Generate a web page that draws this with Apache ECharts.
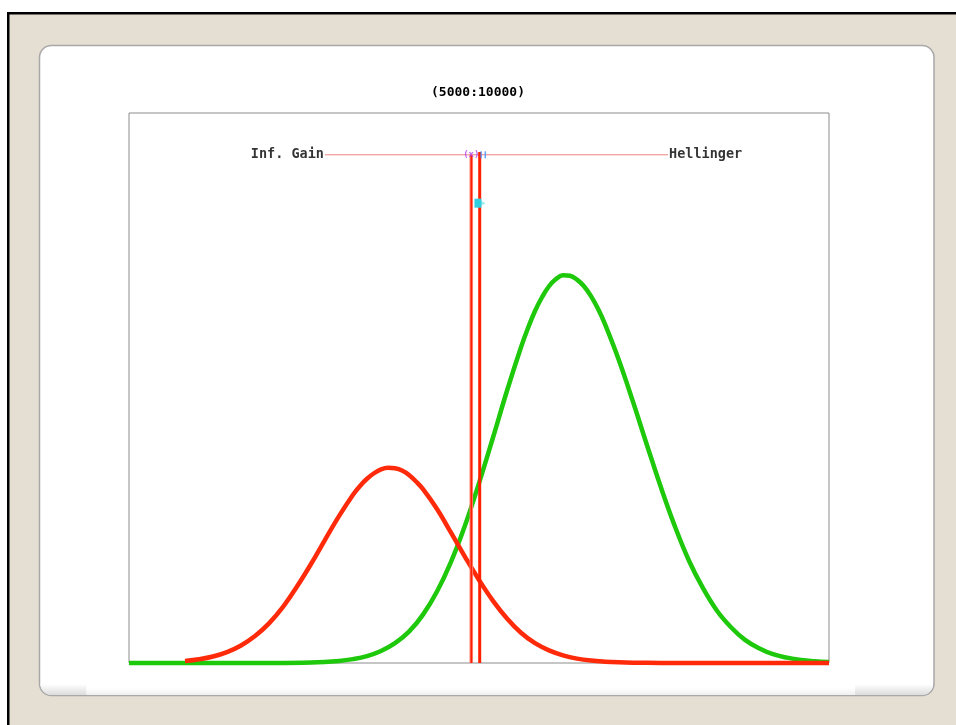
<!DOCTYPE html>
<html>
<head>
<meta charset="utf-8">
<script src="https://cdn.jsdelivr.net/npm/echarts@6/dist/echarts.min.js"></script>
<style>html,body{margin:0;padding:0;background:#fff;}#c{width:956px;height:725px;}</style>
</head>
<body>
<div id="c"></div>
<script>
// ---- data (x and y in plot units 0..100) ----
const titleText = '(5000:10000)';
const redX = [8,10,12,14,16,18,20,22,24,26,28,30,32,33,34,35,36,37,38,39,40,41,42,44,46,48,50,52,54,56,58,60,62,64,66,68,70,72,76,84,100];
const redY = [0.37,0.68,1.18,1.98,3.19,4.9,7.2,10.2,13.9,18.0,22.4,26.7,30.6,32.2,33.5,34.5,35.2,35.5,35.4,35.0,34.2,33.0,31.6,28.0,23.7,19.3,15.1,11.3,8.1,5.5,3.6,2.3,1.4,0.8,0.44,0.24,0.12,0.06,0.02,0,0];
const greenX = [0,10,20,26,30,32,34,36,38,40,42,44,46,48,50,52,54,56,57,58,59,60,61,62,63,64,65,66,67,68,70,72,74,76,78,80,82,84,86,88,90,92,94,96,98,100];
const greenY = [0,0,0.01,0.09,0.37,0.70,1.25,2.17,3.6,5.7,8.8,13.0,18.4,25.0,32.7,41.0,49.5,57.4,60.9,64.0,66.5,68.5,69.8,70.5,70.4,69.7,68.5,66.7,64.4,61.6,55.0,47.5,39.6,31.9,24.8,18.6,13.6,9.5,6.5,4.2,2.7,1.6,0.97,0.55,0.31,0.16];
const thresholdInfGain = 48.9;
const thresholdHellinger = 50.1;
const topLineY = 92.4;
const topLineX = [28.0, 77.0];
const labelNames = ['Inf. Gain', 'Hellinger'];
const cyanMarker = [49.85, 83.6];
const blueTicksX = [50.3, 50.9];

const zip = (a, b) => a.map((v, i) => [v, b[i]]);

const chart = echarts.init(document.getElementById('c'), null, {renderer: 'canvas'});
const mono = 'DejaVu Sans Mono';

chart.setOption({
  backgroundColor: '#ffffff',
  animation: false,
  graphic: [
    {type: 'rect', z: -100, silent: true,
     shape: {x: 8.25, y: 13.25, width: 960, height: 720},
     style: {fill: '#e4ded3', stroke: '#000', lineWidth: 2.5}},
    {type: 'rect', z: -99, silent: true,
     shape: {x: 39.5, y: 45.5, width: 894.5, height: 650, r: 12},
     style: {fill: '#ffffff', stroke: '#a8a8a8', lineWidth: 1.5}},
    {type: 'rect', z: -98, silent: true,
     shape: {x: 40.5, y: 684, width: 46, height: 11, r: [0, 0, 0, 11]},
     style: {fill: new echarts.graphic.LinearGradient(0, 0, 0, 1, [{offset: 0, color: '#ffffff'}, {offset: 1, color: '#dcdcdc'}])}},
    {type: 'rect', z: -98, silent: true,
     shape: {x: 855, y: 684, width: 78, height: 11, r: [0, 0, 11, 0]},
     style: {fill: new echarts.graphic.LinearGradient(0, 0, 0, 1, [{offset: 0, color: '#ffffff'}, {offset: 1, color: '#dcdcdc'}])}},
    {type: 'rect', z: -98, silent: true,
     shape: {x: 86.5, y: 688, width: 768.5, height: 7},
     style: {fill: new echarts.graphic.LinearGradient(0, 0, 0, 1, [{offset: 0, color: '#ffffff'}, {offset: 1, color: '#efefef'}])}}
  ],
  title: {
    text: titleText, left: 'center', top: 81,
    textStyle: {fontFamily: mono, fontSize: 13, fontWeight: 'bold', color: '#000'}
  },
  grid: {left: 129, top: 113, width: 700, height: 550, show: true, borderColor: '#8c8c8c', borderWidth: 1, backgroundColor: 'transparent'},
  xAxis: {type: 'value', min: 0, max: 100, show: false},
  yAxis: {type: 'value', min: 0, max: 100, show: false},
  series: [
    {type: 'line', name: 'top', data: zip(topLineX, [topLineY, topLineY]), symbol: 'none',
     lineStyle: {color: '#f08282', width: 1}, z: 2, silent: true},
    {type: 'scatter', name: 'labels', data: zip(topLineX, [topLineY, topLineY]).map((p, i) => ({
        value: p,
        label: {show: true, formatter: labelNames[i], position: i === 0 ? 'left' : 'right', distance: 1,
                fontFamily: mono, fontSize: 13.5, fontWeight: 'bold', color: '#000'}
      })), symbolSize: 0, z: 6, silent: true},
    {type: 'line', name: 'green', data: zip(greenX, greenY), smooth: 0.4, symbol: 'none', clip: false,
     lineStyle: {color: '#1ec80a', width: 4.5}, z: 3},
    {type: 'line', name: 'red', data: zip(redX, redY), smooth: 0.4, symbol: 'none', clip: false,
     lineStyle: {color: '#ff2a0a', width: 4.5}, z: 4},
    {type: 'line', name: 'vIG', data: [[thresholdInfGain, 0], [thresholdInfGain, topLineY]], symbol: 'none', clip: false,
     lineStyle: {color: '#ff7a6a', width: 3.5}, z: 5},
    {type: 'line', name: 'vIG2', data: [[thresholdInfGain, 0], [thresholdInfGain, topLineY]], symbol: 'none', clip: false,
     lineStyle: {color: '#ff2000', width: 1.5}, z: 5},
    {type: 'line', name: 'vH', data: [[thresholdHellinger, 0], [thresholdHellinger, topLineY + 0.5]], symbol: 'none', clip: false,
     lineStyle: {color: '#ff2000', width: 3}, z: 5},
    {type: 'scatter', name: 'purple', data: [{value: [thresholdInfGain, topLineY],
        label: {show: true, formatter: '(x)', position: 'inside', fontFamily: mono, fontSize: 9, fontWeight: 'bold', color: '#b040f0'}}],
     symbolSize: 0, z: 7, silent: true},
    {type: 'scatter', name: 'blue', data: blueTicksX.map(x => [x, topLineY]), symbol: 'rect', symbolSize: [1.5, 7],
     itemStyle: {color: '#3f8fff'}, z: 7, silent: true},
    {type: 'scatter', name: 'cyan', data: [cyanMarker], symbol: 'rect', symbolSize: [7, 9],
     itemStyle: {color: '#30d0e0', opacity: 1}, z: 8, silent: true},
    {type: 'scatter', name: 'cyanTip', data: [[cyanMarker[0] + 0.75, cyanMarker[1]]], symbol: 'triangle', symbolRotate: -90, symbolSize: [5, 5],
     itemStyle: {color: '#7fe8f0'}, z: 7, silent: true}
  ]
});
</script>
</body>
</html>
